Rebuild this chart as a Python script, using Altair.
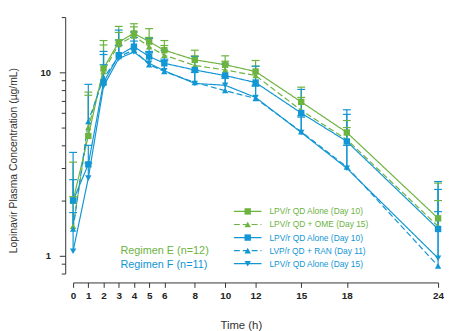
import altair as alt
import pandas as pd

hours = [0, 1, 2, 3, 4, 5, 6, 8, 10, 12, 15, 18, 24]

e_alone_d10 = [2.0, 4.5, 10.5, 14.6, 16.3, 14.7, 13.2, 11.7, 11.0, 10.1, 6.9, 4.7, 1.6]
e_ome_d15 = [1.45, 5.0, 10.1, 14.2, 15.8, 13.8, 12.4, 10.9, 10.3, 9.6, 6.2, 4.3, 1.45]
f_alone_d10 = [2.0, 3.15, 8.8, 12.4, 13.8, 12.2, 11.2, 10.3, 9.6, 8.8, 6.0, 4.2, 1.4]
f_ran_d11 = [1.4, 5.4, 9.3, 12.2, 13.2, 11.0, 10.1, 8.8, 7.95, 7.2, 4.75, 3.05, 0.88]
f_alone_d15 = [1.06, 2.65, 8.4, 11.9, 12.9, 11.2, 10.2, 8.7, 8.5, 7.3, 4.7, 3.0, 0.97]

e_alone_d10_sd_top = [3.24, 7.5, 14.9, 17.8, 18.4, 17.3, 14.9, 13.2, 12.3, 11.6, 8.3, 5.46, 2.49]
e_ome_d15_sd_top = [2.1, 7.8, 14.1, 16.5, 17.7, 15.5, 14.0, 12.3, 11.5, 10.8, 7.3, 5.0, 2.0]
f_alone_d10_sd_top = [3.66, 4.0, 12.5, 17.0, 16.6, 15.3, 13.2, 12.2, 11.1, 10.8, 8.07, 5.9, 1.74]
f_ran_d11_sd_top = [2.6, 8.6, 13.0, 15.0, 15.5, 13.0, 11.8, 10.3, 9.3, 8.5, 5.8, 6.25, 2.54]
f_alone_d15_sd_top = [1.72, 3.2, 11.0, 14.0, 14.8, 12.8, 11.6, 10.0, 9.5, 8.4, 5.7, 4.0, 2.3]

series_ids = ["E_alone_d10", "E_ome_d15", "F_alone_d10", "F_ran_d11", "F_alone_d15"]
series_labels = [
    "LPV/r QD Alone (Day 10)",
    "LPV/r QD + OME (Day 15)",
    "LPV/r QD Alone (Day 10)",
    "LVP/r QD + RAN (Day 11)",
    "LPV/r QD Alone (Day 15)",
]
regimen_labels = ["Regimen E (n=12)", "Regimen F (n=11)"]

GREEN = "#6db33f"
BLUE = "#1296d4"
series_colors = [GREEN, GREEN, BLUE, BLUE, BLUE]
series_shapes = ["square", "triangle-up", "square", "triangle-up", "triangle-down"]
series_dashes = [[1, 0], [6, 3], [1, 0], [6, 3], [1, 0]]

means = [e_alone_d10, e_ome_d15, f_alone_d10, f_ran_d11, f_alone_d15]
tops = [e_alone_d10_sd_top, e_ome_d15_sd_top, f_alone_d10_sd_top, f_ran_d11_sd_top, f_alone_d15_sd_top]

rows = []
for sid, lab, m, t in zip(series_ids, series_labels, means, tops):
    for h, v, u in zip(hours, m, t):
        rows.append({"hour": h, "value": v, "upper": u, "series": sid, "label": lab})
df = pd.DataFrame(rows)

leg_df = pd.DataFrame({"series": series_ids, "label": series_labels})

FONT = "Liberation Sans, Arial, sans-serif"

color = alt.Color("series:N", scale=alt.Scale(domain=series_ids, range=series_colors), legend=None)
dash = alt.StrokeDash("series:N", scale=alt.Scale(domain=series_ids, range=series_dashes), legend=None)
shape = alt.Shape("series:N", scale=alt.Scale(domain=series_ids, range=series_shapes), legend=None)

x_axis = alt.Axis(
    values=hours, format="d", grid=False, offset=9, tickSize=5,
    labelOverlap=False, labelFlush=False, labelBound=False, labelSeparation=0,
    labelFontSize=10, labelFontWeight="bold", labelColor="#222", labelPadding=3,
    domainColor="#333", tickColor="#333", labelFont=FONT,
    title="Time (h)", titleFont=FONT, titleFontSize=11.5, titleFontWeight="normal",
    titleColor="#333", titleX=170, titleY=38, titleBaseline="top",
)
x_enc = alt.X("hour:Q", scale=alt.Scale(domain=[0, 24], nice=False, zero=False), axis=x_axis)

y_vals = [0.8, 0.9, 1, 2, 3, 4, 5, 6, 7, 8, 9, 10, 20]
y_axis = alt.Axis(
    values=y_vals, grid=False, offset=8, labelOverlap=False,
    labelExpr="datum.value == 1 ? '1' : (datum.value == 10 ? '10' : '')",
    tickSize=alt.ConditionalAxisNumber(condition={"test": "datum.value == 1 || datum.value == 10", "value": 6}, value=4),
    labelFontSize=9.5, labelFontWeight="bold", labelColor="#222", labelPadding=9, labelFont=FONT,
    domainColor="#333", tickColor="#333",
    title="Lopinavir Plasma Concentration (µg/mL)", titleFont=FONT, titleFontSize=10.5,
    titleFontWeight="normal", titleColor="#333", titleAngle=-90,
    titleX=-47.5, titleY=145, titleBaseline="bottom", titleAlign="center",
)
y_scale = alt.Scale(type="log", domain=[0.8, 20], nice=False)
y_enc = alt.Y("value:Q", scale=y_scale, axis=y_axis)

base = alt.Chart(df)
lines = base.mark_line(strokeWidth=1.2).encode(x=x_enc, y=y_enc, color=color, strokeDash=dash, detail="series:N")
err = base.mark_rule(strokeWidth=1.2).encode(x=x_enc, y=y_enc, y2="upper:Q", color=color)
caps = base.mark_rule(strokeWidth=1.2, xOffset=-4, x2Offset=4).encode(
    x=x_enc, x2="hour:Q", y=alt.Y("upper:Q", scale=y_scale, axis=y_axis), color=color
)
pts = base.mark_point(filled=True, size=42, opacity=1).encode(x=x_enc, y=y_enc, color=color, shape=shape)

main = alt.layer(lines, err, caps, pts)

leg_y = alt.Y("series:N", scale=alt.Scale(type="point", domain=series_ids, range=[197, 250], padding=0), axis=None)
lb = alt.Chart(leg_df)
leg_rule = lb.mark_rule(strokeWidth=1.2).encode(
    x=alt.value(163), x2=alt.value(191), y=leg_y, color=color, strokeDash=dash
)
leg_pt = lb.mark_point(filled=True, size=42, opacity=1).encode(
    x=alt.value(177), y=leg_y, color=color, shape=shape
)
leg_txt = lb.mark_text(align="left", baseline="middle", font=FONT, fontSize=8.5).encode(
    x=alt.value(199), y=leg_y, text="label:N", color=color
)
legend = alt.layer(leg_rule, leg_pt, leg_txt)

reg_e = alt.Chart(pd.DataFrame({"t": [regimen_labels[0]]})).mark_text(
    align="left", baseline="middle", font=FONT, fontSize=11, color=GREEN
).encode(x=alt.value(48), y=alt.value(237), text="t:N")
reg_f = alt.Chart(pd.DataFrame({"t": [regimen_labels[1]]})).mark_text(
    align="left", baseline="middle", font=FONT, fontSize=11, color=BLUE
).encode(x=alt.value(48), y=alt.value(251), text="t:N")

chart = alt.layer(main, legend, reg_e, reg_f).resolve_scale(y="independent").properties(
    width=370, height=260,
    autosize=alt.AutoSizeParams(type="none"),
    padding={"left": 66, "top": 7, "right": 6, "bottom": 56},
).configure_view(stroke=None).configure_axisX(labelOverlap=False)

chart.save("out.html", embed_options={"renderer": "svg", "actions": False})
